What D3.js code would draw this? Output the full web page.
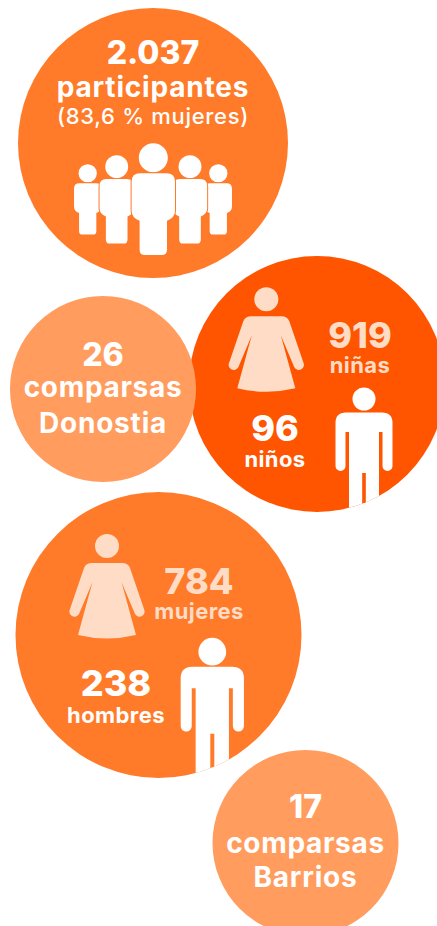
<!DOCTYPE html>
<html>

<head>
  <title>Comparsas</title>
  <script src="https://cdn.jsdelivr.net/npm/d3@7"></script>
  <style>
    html, body { margin: 0; background: #fff; overflow: hidden; }
    text { font-family: Inter, sans-serif; text-anchor: middle; }
  </style>
</head>

<body>
  <svg id="chart" width="437" height="926"></svg>

  <script>
    // values
    var bubbles = ['total', 'girls', 'donostia', 'adults', 'barrios'];
    var totals = [2037, 919, 96, 26, 784, 238, 17];
    var totalLabels = ['participantes', 'niñas', 'niños', 'comparsas', 'mujeres', 'hombres', 'comparsas'];
    var womenShare = ['(83,6 % mujeres)'];
    var placeNames = ['Donostia', 'Barrios'];

    // layout
    var bubbleX = d3.scaleOrdinal(bubbles, [153, 317, 103, 158.5, 305.5]);
    var bubbleY = d3.scaleOrdinal(bubbles, [143, 384, 389, 635, 843]);
    var bubbleR = d3.scaleOrdinal(bubbles, [135, 128, 93, 143, 93]);
    var bubbleColor = d3.scaleOrdinal(bubbles, ['#ff7a29', '#ff5500', '#ff9c5e', '#ff7a29', '#ff9c5e']);

    var PEACH = '#ffdcc6';
    var format = d3.formatLocale({ decimal: ',', thousands: '.', grouping: [3], currency: ['', ''] }).format(',d');

    var svg = d3.select('#chart');
    var defs = svg.append('defs');

    bubbles.forEach(function (b) {
      defs.append('clipPath').attr('id', 'clip-' + b)
        .append('circle')
        .attr('cx', bubbleX(b)).attr('cy', bubbleY(b)).attr('r', bubbleR(b));
    });

    svg.selectAll('circle.bubble')
      .data(bubbles)
      .join('circle')
      .attr('class', 'bubble')
      .attr('cx', bubbleX).attr('cy', bubbleY).attr('r', bubbleR)
      .attr('fill', bubbleColor);

    // figures, origin is the centre of the head
    var womanBody = 'M-15,17 L15,17 Q21,17 23,22 L37,63 A5,5 0 0 1 28,68 L14.5,36 L29,89 Q0,96 -29,89 L-14.5,36 L-28,68 A5,5 0 0 1 -37,63 L-23,22 Q-21,17 -15,17 Z';
    var manBody = 'M-18,13.5 L18,13.5 Q28.5,13.5 28.5,24 L28.5,67 A5,5 0 0 1 18.5,67 L18.5,33 L15,33 L15,140 L1.8,140 L1.8,74 L-1.8,74 L-1.8,140 L-15,140 L-15,33 L-18.5,33 L-18.5,67 A5,5 0 0 1 -28.5,67 L-28.5,24 Q-28.5,13.5 -18,13.5 Z';
    var crowdBody = 'M-13,15.6 L13,15.6 Q21.7,15.6 21.7,24 L21.7,53 Q21.7,60 13.7,63 L13.7,92 Q13.7,97.3 8.5,97.3 L-8.5,97.3 Q-13.7,97.3 -13.7,92 L-13.7,63 Q-21.7,60 -21.7,53 L-21.7,24 Q-21.7,15.6 -13,15.6 Z';

    function figure(body, headR, x, y, scale, fill, clip) {
      var g = svg.append('g');
      if (clip) g.attr('clip-path', 'url(#clip-' + clip + ')');
      var f = g.append('g').attr('transform', 'translate(' + x + ',' + y + ') scale(' + scale + ')').attr('fill', fill);
      f.append('circle').attr('r', headR);
      f.append('path').attr('d', body);
      return f;
    }

    // crowd, back row first so the front ones cut a gap in them
    [[87.7, 173.3, 0.63], [218.3, 173.3, 0.63], [116.7, 166.7, 0.79], [190, 166.7, 0.79], [153.3, 157.7, 1]].forEach(function (p) {
      var f = figure(crowdBody, 14.5, p[0], p[1], p[2], '#fff');
      f.select('path').attr('stroke', '#ff7a29').attr('stroke-width', 2 / p[2]).attr('paint-order', 'stroke');
    });

    figure(womanBody, 12, 266.3, 299.3, 1, PEACH);
    figure(manBody, 11.5, 364, 399, 1, '#fff', 'girls');
    figure(womanBody, 12, 107, 546, 1, PEACH);
    figure(manBody, 12.5, 212.3, 651.7, 1.11, '#fff', 'adults');

    // text
    var rows = totals.map(function (d, i) { return i; });
    var numberX = d3.scaleOrdinal(rows, [153, 360, 275, 103, 199, 116, 305.5]);
    var numberY = d3.scaleOrdinal(rows, [64, 348, 441, 366, 594, 696, 818]);
    var labelY = d3.scaleOrdinal(rows, [97, 373, 467, 397, 619, 723, 853]);
    var numberSize = d3.scaleOrdinal(rows, [32, 36, 36, 32, 36, 36, 32]);
    var labelSize = d3.scaleOrdinal(rows, [28, 22, 22, 28, 22, 22, 28]);
    var labelSpacing = d3.scaleOrdinal(rows, [0.8, 0.4, 0.4, 0.7, 0.4, 0.4, 0.7]);
    var textColor = d3.scaleOrdinal(rows, ['#fff', PEACH, '#fff', '#fff', PEACH, '#fff', '#fff']);

    totals.forEach(function (v, i) {
      svg.append('text')
        .attr('x', numberX(i)).attr('y', numberY(i))
        .attr('font-size', numberSize(i)).attr('font-weight', 800)
        .attr('fill', textColor(i))
        .text(format(v));
      svg.append('text')
        .attr('x', numberX(i)).attr('y', labelY(i))
        .attr('font-size', labelSize(i)).attr('font-weight', 700)
        .attr('letter-spacing', labelSpacing(i))
        .attr('fill', textColor(i))
        .text(totalLabels[i]);
    });

    svg.append('text')
      .attr('x', 153).attr('y', 124)
      .attr('font-size', 22).attr('font-weight', 500)
      .attr('letter-spacing', 0.7)
      .attr('fill', '#fff')
      .text(womenShare[0]);

    placeNames.forEach(function (name, i) {
      svg.append('text')
        .attr('x', [103, 305.5][i]).attr('y', [433, 887][i])
        .attr('font-size', 28).attr('font-weight', 700)
        .attr('letter-spacing', 0.8)
        .attr('fill', '#fff')
        .text(name);
    });
  </script>
</body>

</html>
